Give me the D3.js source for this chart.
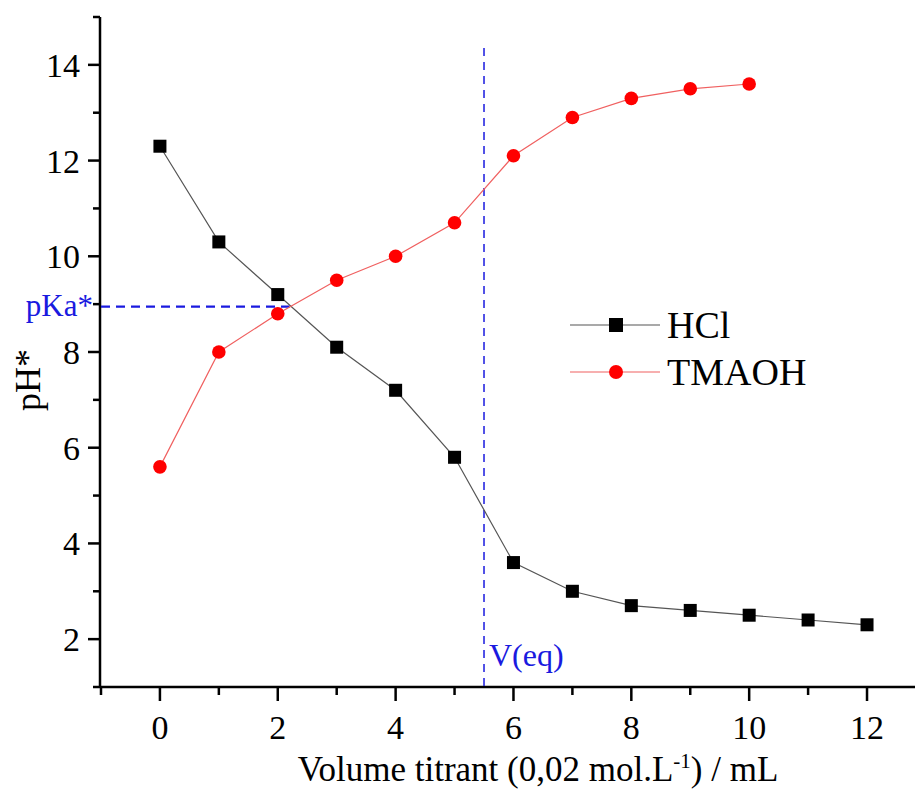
<!DOCTYPE html>
<html><head><meta charset="utf-8">
<script src="https://cdn.jsdelivr.net/npm/d3@7"></script>
<style>body{margin:0;background:#fff}svg{display:block}text{font-family:"Liberation Serif","Times New Roman",serif}</style>
</head><body>
<svg id="c" width="915" height="790"></svg>
<script>
const volumes = [0,1,2,3,4,5,6,7,8,9,10,11,12];
const hclValues = [12.3,10.3,9.2,8.1,7.2,5.8,3.6,3.0,2.7,2.6,2.5,2.4,2.3];
const tmaohVolumes = [0,1,2,3,4,5,6,7,8,9,10];
const tmaohValues = [5.6,8.0,8.8,9.5,10.0,10.7,12.1,12.9,13.3,13.5,13.6];
const xTicks = [0,2,4,6,8,10,12];
const yTicks = [2,4,6,8,10,12,14];
const pKa = 8.95, pKaX = 2.2;
const vEq = 5.5, vEqTop = 14.35;

const svg = d3.select("#c");
const x = d3.scaleLinear().domain([-1, 12.95]).range([101, 923]);
const y = d3.scaleLinear().domain([1, 15]).range([687, 17]);

// axes
const xAxis = svg.append("g").attr("transform","translate(0,687)");
xAxis.append("line").attr("x1",101).attr("x2",915).attr("stroke","#000").attr("stroke-width",2.5);
d3.range(-1,13).forEach(v=>{
  const major = v%2===0;
  xAxis.append("line").attr("x1",x(v)).attr("x2",x(v)).attr("y1",0).attr("y2",major?14:8).attr("stroke","#000").attr("stroke-width",2.5);
});
xAxis.selectAll("text.t").data(xTicks).join("text").attr("class","t")
  .attr("x",d=>x(d)).attr("y",52).attr("text-anchor","middle").attr("font-size",34).text(d=>d);

const yAxis = svg.append("g").attr("transform","translate(100,0)");
yAxis.append("line").attr("y1",17).attr("y2",688).attr("stroke","#000").attr("stroke-width",2.5);
d3.range(1,16).forEach(v=>{
  const major = v%2===0;
  yAxis.append("line").attr("x1",0).attr("x2",major?-12:-7).attr("y1",y(v)).attr("y2",y(v)).attr("stroke","#000").attr("stroke-width",2.5);
});
yAxis.selectAll("text.t").data(yTicks).join("text").attr("class","t")
  .attr("x",-20).attr("y",d=>y(d)+12).attr("text-anchor","end").attr("font-size",34).text(d=>d);

// titles
const xt = svg.append("text").attr("x",538).attr("y",781).attr("text-anchor","middle").attr("font-size",35);
xt.append("tspan").text("Volume titrant (0,02 mol.L");
xt.append("tspan").attr("font-size",21).attr("dy",-13).text("-1");
xt.append("tspan").attr("dy",13).text(") / mL");
svg.append("text").attr("transform","translate(40,380) rotate(-90)").attr("text-anchor","middle").attr("font-size",36).text("pH*");

// reference lines
svg.append("line").attr("x1",x(vEq)).attr("x2",x(vEq)).attr("y1",y(vEqTop)).attr("y2",687)
  .attr("stroke","#1a1adf").attr("stroke-width",1.5).attr("stroke-dasharray","8,6");
svg.append("line").attr("x1",101).attr("x2",x(pKaX)).attr("y1",y(pKa)).attr("y2",y(pKa))
  .attr("stroke","#1a1adf").attr("stroke-width",2.2).attr("stroke-dasharray","9,6");
svg.append("text").attr("x",93).attr("y",y(pKa)+9).attr("text-anchor","end").attr("font-size",31).attr("fill","#1a1adf").text("pKa*");
svg.append("text").attr("x",x(vEq)+5).attr("y",666).attr("font-size",32).attr("fill","#1a1adf").text("V(eq)");

// series
const hcl = volumes.map((v,i)=>[v,hclValues[i]]);
const tma = tmaohVolumes.map((v,i)=>[v,tmaohValues[i]]);
const line = d3.line().x(d=>x(d[0])).y(d=>y(d[1]));
svg.append("path").attr("d",line(hcl)).attr("fill","none").attr("stroke","#555").attr("stroke-width",1.2);
svg.append("path").attr("d",line(tma)).attr("fill","none").attr("stroke","#f06060").attr("stroke-width",1.2);
svg.selectAll("rect.h").data(hcl).join("rect").attr("class","h")
  .attr("x",d=>x(d[0])-6.5).attr("y",d=>y(d[1])-6.5).attr("width",13).attr("height",13).attr("fill","#000");
svg.selectAll("circle.t").data(tma).join("circle").attr("class","t")
  .attr("cx",d=>x(d[0])).attr("cy",d=>y(d[1])).attr("r",6.8).attr("fill","#f00");

// legend
const lg = svg.append("g");
lg.append("line").attr("x1",570).attr("x2",660).attr("y1",325).attr("y2",325).attr("stroke","#555").attr("stroke-width",1.2);
lg.append("rect").attr("x",609).attr("y",318).attr("width",14).attr("height",14).attr("fill","#000");
lg.append("text").attr("x",667).attr("y",338).attr("font-size",38).text("HCl");
lg.append("line").attr("x1",570).attr("x2",660).attr("y1",372).attr("y2",372).attr("stroke","#f06060").attr("stroke-width",1.2);
lg.append("circle").attr("cx",616).attr("cy",372).attr("r",7).attr("fill","#f00");
lg.append("text").attr("x",667).attr("y",385).attr("font-size",38).text("TMAOH");
</script>
</body></html>
